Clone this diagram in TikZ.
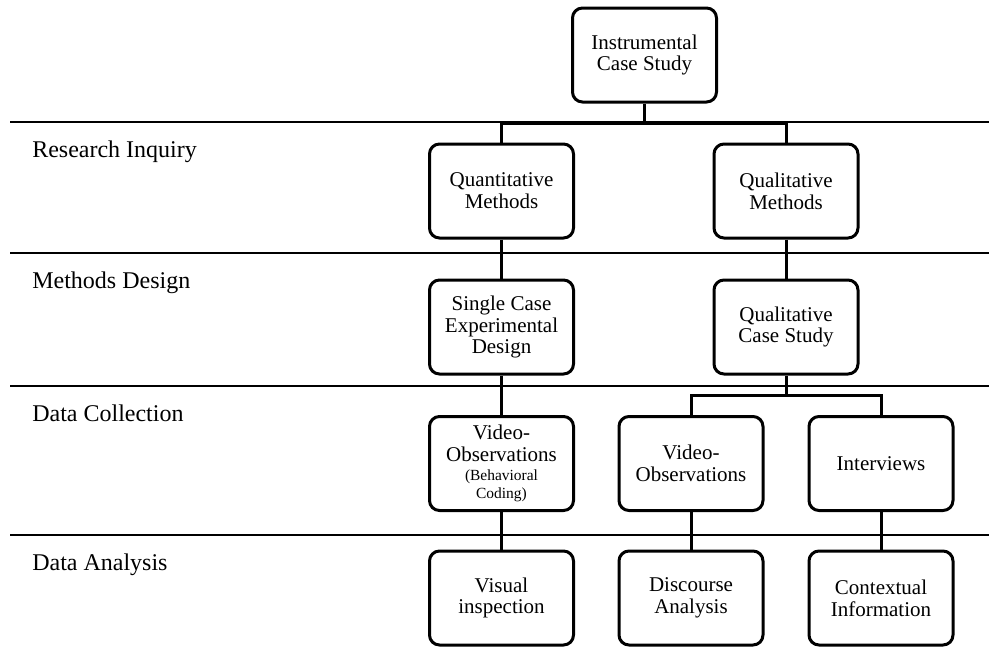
\documentclass[tikz,border=0pt]{standalone}
\usepackage{fontspec}
\setmainfont{Liberation Serif}
\usetikzlibrary{arrows.meta}

\begin{document}
\begin{tikzpicture}[x=0.75pt,y=-0.75pt,
  box/.style={draw,rounded corners=7.5pt,line width=2.25pt,minimum width=108pt,minimum height=70.5pt,
    align=center,inner sep=2pt,font=\fontsize{15.75}{16.3}\selectfont},
  rule/.style={line width=2pt},
  link/.style={line width=2.25pt},
  lvl/.style={anchor=base west,inner sep=0pt,font=\fontsize{18}{20}\selectfont}]
  \useasboundingbox (0,0) rectangle (989,647);
  % level rules and their labels
  \draw[rule] (10,122) -- (989,122);
  \draw[rule] (10,253) -- (989,253);
  \draw[rule] (10,386) -- (989,386);
  \draw[rule] (10,535) -- (989,535);
  \node[lvl] (inq) at (32,157) {Research Inquiry};
  \node[lvl] (mdes) at (32,288) {Methods Design};
  \node[lvl] (dcol) at (32,421) {Data Collection};
  \node[lvl] (dana) at (32,570) {Data Analysis};
  % boxes
  \node[box] (inst) at (644.5,55) {Instrumental\\Case Study};
  \node[box] (quan) at (501.5,191) {Quantitative\\Methods};
  \node[box] (qual) at (786,191) {Qualitative\\Methods};
  \node[box] (scd) at (501.5,327) {Single Case\\Experimental\\Design};
  \node[box] (qcs) at (786,327) {Qualitative\\Case Study};
  \node[box] (vobs) at (501.5,463.5) {Video-\\Observations\\[-2pt]{\fontsize{11.6}{12}\selectfont(Behavioral}\\[-3pt]{\fontsize{11.6}{12}\selectfont Coding)}};
  \node[box] (vobsq) at (691,463.5) {Video-\\Observations};
  \node[box] (intv) at (881,463.5) {Interviews};
  \node[box] (vis) at (501.5,598) {Visual\\inspection};
  \node[box] (disc) at (691,598) {Discourse\\Analysis};
  \node[box] (ctx) at (881,598) {Contextual\\Information};
  % connectors
  \draw[link] (inst.south) -- ++(0,20) coordinate (split1);
  \draw[link] (split1) -| (quan.north);
  \draw[link] (split1) -| (qual.north);
  \draw[link] (quan) -- (scd);
  \draw[link] (qual) -- (qcs);
  \draw[link] (scd) -- (vobs);
  \draw[link] (qcs.south) -- ++(0,20) coordinate (split2);
  \draw[link] (split2) -| (vobsq.north);
  \draw[link] (split2) -| (intv.north);
  \draw[link] (vobs) -- (vis);
  \draw[link] (vobsq) -- (disc);
  \draw[link] (intv) -- (ctx);
\end{tikzpicture}
\end{document}
